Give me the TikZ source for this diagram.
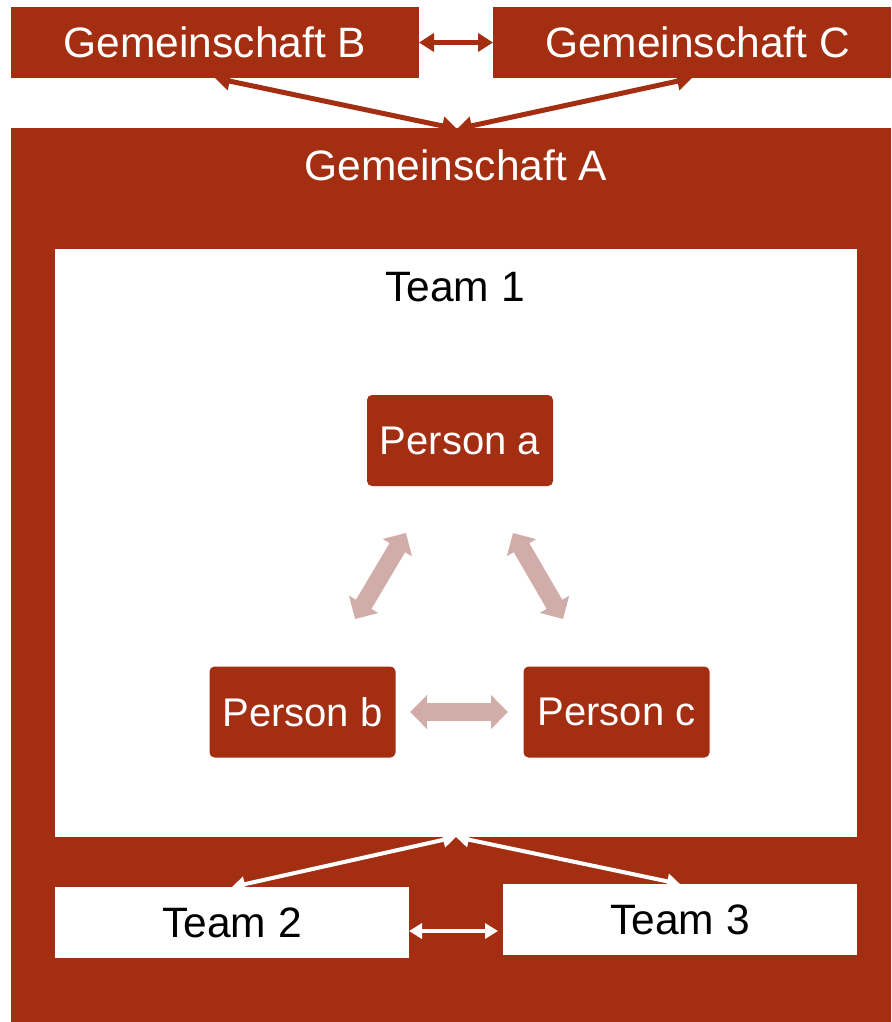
\documentclass[tikz,border=0pt]{standalone}
\usepackage{fontspec}
\setmainfont{Liberation Sans}
\usetikzlibrary{arrows.meta,calc}
\definecolor{rust}{HTML}{A32E11}
\definecolor{rose}{HTML}{D1ADA9}
\begin{document}
\begin{tikzpicture}[x=1pt,y=-1pt,
  bigfont/.style={font=\fontsize{42.5}{50}\selectfont},
  teamfont/.style={font=\fontsize{42.5}{50}\selectfont},
  midfont/.style={font=\fontsize{40}{48}\selectfont},
  rustbox/.style={fill=rust,text=white,inner sep=0pt,outer sep=0pt},
  whitebox/.style={fill=white,text=black,inner sep=0pt,outer sep=0pt},
  person/.style={rustbox,midfont,rounded corners=5pt,minimum width=186pt,minimum height=91pt},
  darklink/.style={draw=rust,line width=5pt,{Triangle[length=15pt,width=18pt]}-{Triangle[length=15pt,width=18pt]}},
  whitelink/.style={draw=white,line width=4pt,{Triangle[length=13pt,width=15pt]}-{Triangle[length=13pt,width=15pt]}},
  roselink/.style={draw=rose,line width=18pt,{Triangle[length=17pt,width=33pt]}-{Triangle[length=17pt,width=33pt]}}]
\useasboundingbox (0,0) rectangle (891,1022);

% outer communities
\node[rustbox,bigfont,minimum width=408pt,minimum height=71pt] (gB) at (215,42.5) {Gemeinschaft B};
\node[rustbox,bigfont,minimum width=398pt,minimum height=71pt] (gC) at (692,42.5) {\hspace*{11pt}Gemeinschaft C};

% community A with its teams
\node[rustbox,minimum width=880pt,minimum height=894pt] (gA) at (451,575) {};
\node[text=white,bigfont,inner sep=0pt] (gAlabel) at (456,165) {Gemeinschaft A};

\node[whitebox,minimum width=802pt,minimum height=588pt] (team1) at (456,543) {};
\node[text=black,teamfont,inner sep=0pt] (team1label) at (455,287) {Team 1};

\node[whitebox,teamfont,minimum width=354pt,minimum height=71pt] (t2) at (232,922.5) {Team 2};
\node[whitebox,teamfont,minimum width=354pt,minimum height=71pt] (t3) at (680,919.5) {Team 3};

% persons in team 1
\node[person] (pa) at (460,440.5) {Person a};
\node[person] (pb) at (302.5,712) {Person b};
\node[person] (pc) at (616.5,712) {Person c};

% links between communities
\coordinate (aTop) at (457,129);
\draw[darklink] (gB.east) -- (gC.west);
\draw[darklink] (gB.south) -- (aTop);
\draw[darklink] (gC.south) -- (aTop);

% links between teams
\coordinate (t2r) at (409,931);
\coordinate (t3l) at (498,931);
\draw[whitelink] (team1.south) -- (t2.north);
\draw[whitelink] (team1.south) -- (t3.north);
\draw[whitelink] (t2r) -- (t3l);

% links between persons
\coordinate (ab1) at (406,533);
\coordinate (ab2) at (355,619);
\coordinate (ac1) at (513,533);
\coordinate (ac2) at (563,619);
\coordinate (bc1) at (410,712);
\coordinate (bc2) at (508,712);
\draw[roselink] (ab1) -- (ab2);
\draw[roselink] (ac1) -- (ac2);
\draw[roselink] (bc1) -- (bc2);
\end{tikzpicture}
\end{document}
